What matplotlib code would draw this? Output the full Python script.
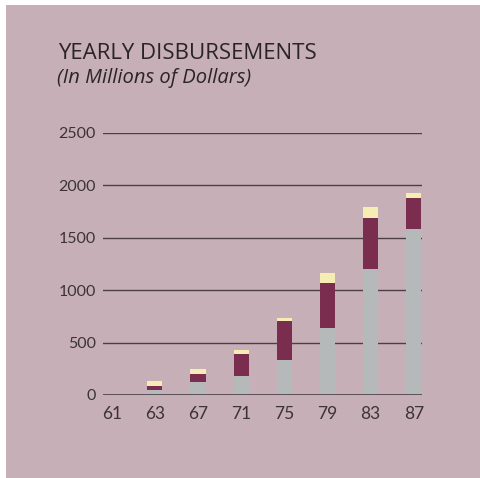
import matplotlib.pyplot as plt
from matplotlib.patches import Rectangle

# yearly disbursements, millions of dollars, stacked in three parts
years = ["61", "63", "67", "71", "75", "79", "83", "87"]
gray_part = [0, 45, 125, 185, 335, 640, 1205, 1580]
maroon_part = [0, 45, 75, 210, 370, 425, 485, 295]
cream_part = [0, 45, 45, 30, 30, 100, 100, 50]
y_ticks = [0, 500, 1000, 1500, 2000, 2500]

bg = "#c7afb7"
ink = "#3b3338"

fig = plt.figure(figsize=(4.8, 4.78), dpi=100, facecolor="white")
# mauve card with a thin white margin at top and left
fig.patches.append(Rectangle((6 / 480, 0), 1, 473 / 478, transform=fig.transFigure,
                             facecolor=bg, edgecolor="none", zorder=-1))

ax = fig.add_axes([103 / 480, 83 / 478, 318.7 / 480, 262.3 / 478])
ax.set_facecolor("none")
ax.set_zorder(2)

pos = list(range(len(years)))
w = 0.35
bottom2 = [g + m for g, m in zip(gray_part, maroon_part)]
ax.bar(pos, gray_part, width=w, color="#b5b9b9", zorder=2)
ax.bar(pos, maroon_part, bottom=gray_part, width=w, color="#7b2d4f", zorder=2)
ax.bar(pos, cream_part, bottom=bottom2, width=w, color="#f5edb4", zorder=2)

# horizontal rules behind the bars
for v in y_ticks[1:]:
    ax.axhline(v, color="#4a4046", lw=1.0, zorder=1)
ax.axhline(0, color="#4a4046", lw=1.2, zorder=3)

ax.set_xlim(-0.2, 7.18)
ax.set_ylim(0, 2500)
ax.set_xticks(pos)
ax.set_xticklabels(years)
ax.set_yticks(y_ticks)
ax.set_yticklabels([str(v) for v in y_ticks])
ax.tick_params(length=0, labelcolor=ink)
ax.tick_params(axis="y", pad=5, labelsize=11.5)
ax.tick_params(axis="x", pad=8, labelsize=12.5)
for lab in ax.get_xticklabels() + ax.get_yticklabels():
    lab.set_family("Lato")
for s in ax.spines.values():
    s.set_visible(False)

fig.text(58 / 480, 1 - 59 / 478, "YEARLY DISBURSEMENTS", family="Open Sans",
         fontsize=16, color="#2a2428", ha="left", va="baseline")
fig.text(57 / 480, 1 - 83 / 478, "(In Millions of Dollars)", family="Open Sans",
         style="italic", fontsize=14.5, color="#2a2428", ha="left", va="baseline")

fig.savefig("out.png", dpi=100, facecolor=fig.get_facecolor())
